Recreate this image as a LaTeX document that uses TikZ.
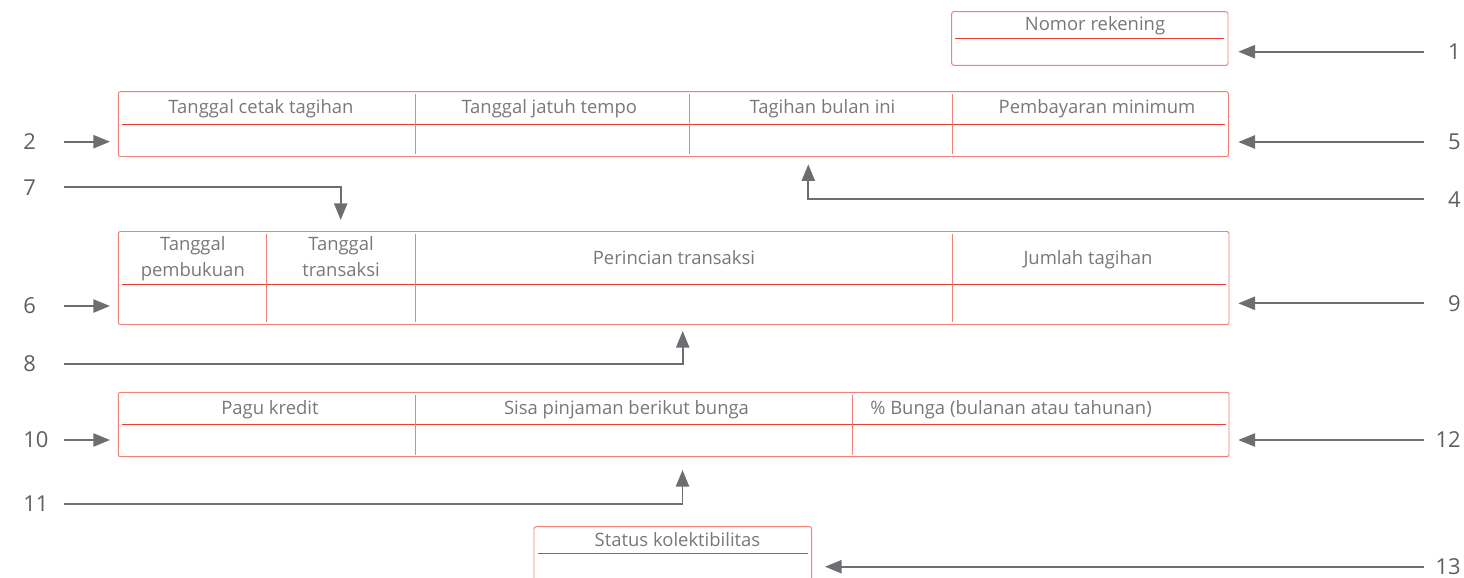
\documentclass[tikz,border=0pt]{standalone}
\usepackage{fontspec}
\setmainfont{Open Sans}
\usetikzlibrary{arrows.meta}
\definecolor{rahmen}{RGB}{242,128,118}
\definecolor{trennlinie}{RGB}{236,62,48}
\definecolor{schrift}{RGB}{120,120,120}
\definecolor{ziffer}{RGB}{95,95,95}
\definecolor{pfeilgrau}{RGB}{109,110,113}
\begin{document}
\begin{tikzpicture}[x=0.02cm,y=-0.02cm,
	kasten/.style={draw=rahmen, line width=0.55pt, rounded corners=1.2pt},
	trenn/.style={draw=trennlinie, line width=0.6pt},
	spalte/.style={draw=rahmen, line width=0.55pt},
	kopf/.style={text=schrift, font=\fontsize{10.5}{14.8}\selectfont, inner sep=0pt, align=center, anchor=base},
	nrlinks/.style={text=ziffer, font=\fontsize{12.5}{14}\selectfont, inner sep=0pt, anchor=west, text width=0.8cm, align=left},
	nrrechts/.style={text=ziffer, font=\fontsize{12.5}{14}\selectfont, inner sep=0pt, anchor=east, text width=0.72cm, align=right},
	pfeil/.style={draw=pfeilgrau, line width=1.1pt, -{Triangle[length=9.5pt,width=7.5pt]}}]
	\useasboundingbox (0,0) rectangle (1464,578);
	\clip (0,0) rectangle (1464,578);

	\draw[kasten] (951.7,11.7) rectangle (1228,65.3);%Nomor rekening
	\draw[trenn] (955,38.3) -- (1224,38.3);
	\node[kopf] (k1) at (1095,30.7) {Nomor rekening};

	\draw[kasten] (118.3,91.7) rectangle (1228.5,156.5);%Zeile Tagihan
	\draw[trenn] (122,124.3) -- (1225,124.3);
	\draw[spalte] (415.3,94) -- (415.3,154);
	\draw[spalte] (689.3,94) -- (689.3,154);
	\draw[spalte] (952,94) -- (952,154);
	\node[kopf] (k2) at (261,113.3) {Tanggal cetak tagihan};
	\node[kopf] (k3) at (549.3,113.3) {Tanggal jatuh tempo};
	\node[kopf] (k4) at (822.5,113.3) {Tagihan bulan ini};
	\node[kopf] (k5) at (1097,113.3) {Pembayaran minimum};

	\draw[kasten] (118.3,231.5) rectangle (1229,324.5);%Zeile Transaksi
	\draw[trenn] (122,284.3) -- (1226,284.3);
	\draw[spalte] (266,234) -- (266,322);
	\draw[spalte] (415.3,234) -- (415.3,322);
	\draw[spalte] (952,234) -- (952,322);
	\node[kopf] (k6) at (192.8,276.7) {Tanggal\\pembukuan};%Grundlinie der 2. Zeile
	\node[kopf] (k7) at (341,276.7) {Tanggal\\transaksi};
	\node[kopf] (k8) at (674,264.3) {Perincian transaksi};
	\node[kopf] (k9) at (1088,264.3) {Jumlah tagihan};

	\draw[kasten] (118.3,392.3) rectangle (1229,456.7);%Zeile Kredit
	\draw[trenn] (122,424.5) -- (1226,424.5);
	\draw[spalte] (415.3,394.5) -- (415.3,454.5);
	\draw[spalte] (852,394.5) -- (852,454.5);
	\node[kopf] (k10) at (270,414.3) {Pagu kredit};
	\node[kopf] (k11) at (626.5,414.3) {Sisa pinjaman berikut bunga};
	\node[kopf] (k12) at (1011,414.3) {\% Bunga (bulanan atau tahunan)};

	\draw[kasten] (534,526.7) rectangle (811.6,600);%Status, unten abgeschnitten
	\draw[trenn] (538,553.3) -- (808,553.3);
	\node[kopf] (k13) at (677.5,546) {Status kolektibilitas};

	%Nummern
	\node[nrrechts] (n1) at (1461,51.7) {1};
	\node[nrlinks] (n2) at (23,141.7) {2};
	\node[nrrechts] (n4) at (1461,199.3) {4};
	\node[nrrechts] (n5) at (1461,142) {5};
	\node[nrlinks] (n6) at (23,306) {6};
	\node[nrlinks] (n7) at (23,187.3) {7};
	\node[nrlinks] (n8) at (23,364) {8};
	\node[nrrechts] (n9) at (1461,303.3) {9};
	\node[nrlinks] (n10) at (23,440) {10};
	\node[nrlinks] (n11) at (23,504) {11};
	\node[nrrechts] (n12) at (1461,440) {12};
	\node[nrrechts] (n13) at (1461,566.7) {13};

	%Pfeilspitzen
	\coordinate (z1) at (1238.3,51.7);
	\coordinate (z2) at (110,141.7);
	\coordinate (z4) at (808.3,164.3);
	\coordinate (z5) at (1238.3,142);
	\coordinate (z6) at (110,306);
	\coordinate (z7) at (340.7,220);
	\coordinate (z8) at (682.7,331);
	\coordinate (z9) at (1238.3,303.3);
	\coordinate (z10) at (110,440);
	\coordinate (z11) at (682.5,470);
	\coordinate (z12) at (1238.3,440);
	\coordinate (z13) at (825,566.7);

	\draw[pfeil] (n1.west) -- (z1);
	\draw[pfeil] (n2.east) -- (z2);
	\draw[pfeil] (n4.west) -| (z4);%Winkel nach oben
	\draw[pfeil] (n5.west) -- (z5);
	\draw[pfeil] (n6.east) -- (z6);
	\draw[pfeil] (n7.east) -| (z7);%Winkel nach unten
	\draw[pfeil] (n8.east) -| (z8);
	\draw[pfeil] (n9.west) -- (z9);
	\draw[pfeil] (n10.east) -- (z10);
	\draw[pfeil] (n11.east) -| (z11);
	\draw[pfeil] (n12.west) -- (z12);
	\draw[pfeil] (n13.west) -- (z13);
\end{tikzpicture}
\end{document}
